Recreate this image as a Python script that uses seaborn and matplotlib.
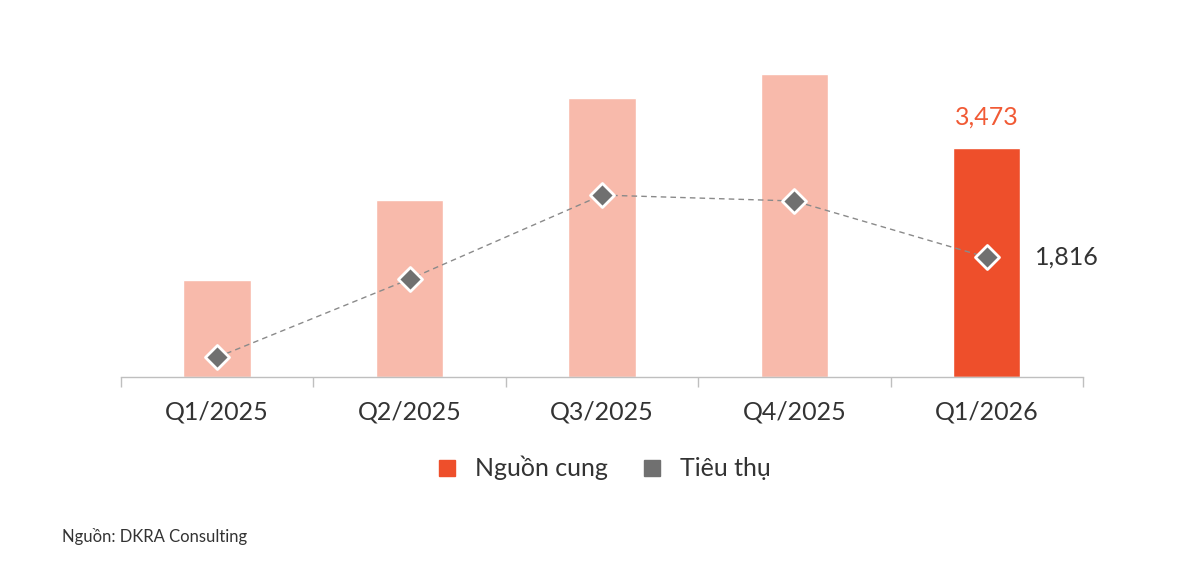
import seaborn as sns
from matplotlib import pyplot as plt
from matplotlib.lines import Line2D
import numpy as np
import pandas as pd

quarters = ['Q1/2025', 'Q2/2025', 'Q3/2025', 'Q4/2025', 'Q1/2026']
supply = [1470, 2685, 4230, 4595, 3473]
sales = [300, 1485, 2760, 2670, 1816]

LIGHT = '#F8BAAB'
RED = '#EE4F2B'
GREY = '#707070'

sns.set_theme(style='white')
plt.rcParams['font.family'] = ['Lato', 'DejaVu Sans']

df = pd.DataFrame({'quarter': quarters, 'supply': supply, 'sales': sales})
df['pos'] = np.arange(len(quarters))

fig = plt.figure(figsize=(12, 5.83), dpi=100)
ax = fig.add_axes([0.1008, 0.3533, 0.8017, 0.5654])

colors = [LIGHT] * (len(quarters) - 1) + [RED]
sns.barplot(data=df, x='quarter', y='supply', hue='quarter', palette=colors,
            width=0.35, legend=False, ax=ax, saturation=1)

sns.lineplot(data=df, x='pos', y='sales', ax=ax, color='#8a8a8a', linestyle=(0, (4, 3)),
             linewidth=1, zorder=3)
ax.scatter(df['pos'], df['sales'], marker='D', s=150, color=GREY, edgecolor='white',
           linewidth=2, zorder=4)

ax.text(4, supply[-1] + 300, f'{supply[-1]:,}', ha='center', va='bottom', fontsize=18, color='#F15A35')
ax.text(4.25, sales[-1], f'{sales[-1]:,}', ha='left', va='center', fontsize=18, color='#333333')

ax.set_xlim(-0.5, 4.5)
ax.set_ylim(0, 5000)
ax.set_xlabel('')
ax.set_ylabel('')
ax.set_yticks([])
ax.set_xticks(range(len(quarters)))
ax.set_xticklabels(quarters, fontsize=18, color='#333333')
ax.set_xticks(np.arange(-0.5, 4.6, 1), minor=True)
ax.tick_params(axis='x', which='major', length=0, pad=17)
ax.tick_params(axis='x', which='minor', length=7, width=1, color='#BFBFBF', bottom=True, direction='out')
for s in ['top', 'right', 'left']:
    ax.spines[s].set_visible(False)
ax.spines['bottom'].set_color('#BFBFBF')
ax.spines['bottom'].set_linewidth(1)

handles = [Line2D([], [], marker='s', linestyle='', markersize=11, color=RED),
           Line2D([], [], marker='s', linestyle='', markersize=11, color=GREY)]
fig.legend(handles, ['Nguồn cung', 'Tiêu thụ'], loc='center', bbox_to_anchor=(0.497, 0.197),
           ncol=2, frameon=False, fontsize=18, handletextpad=0.1, columnspacing=0.8,
           labelcolor='#333333')

fig.text(0.052, 0.079, 'Nguồn: DKRA Consulting', fontsize=12, color='#333333', va='center')

fig.savefig('out.png', dpi=100)
